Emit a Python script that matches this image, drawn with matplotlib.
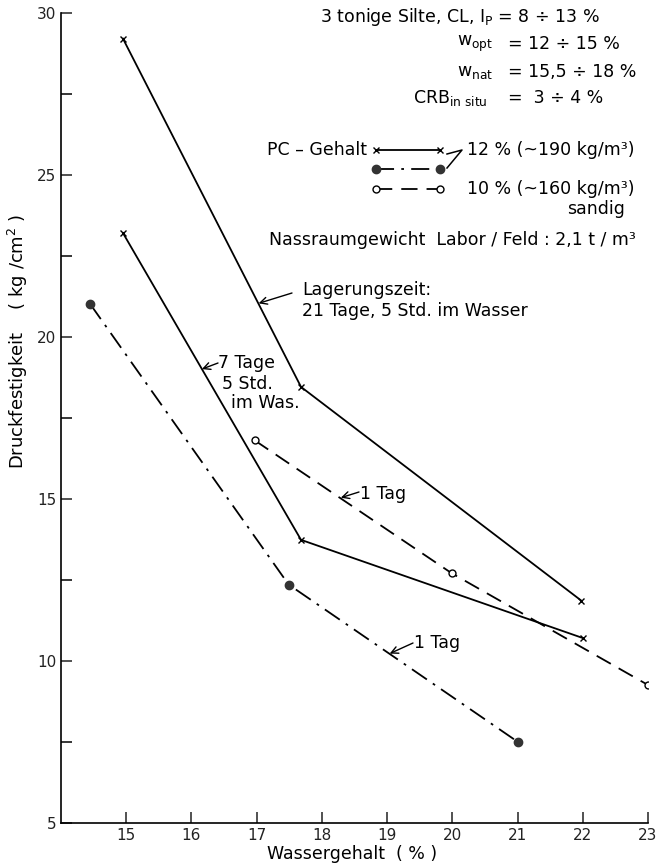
import numpy as np
import matplotlib.pyplot as plt
from matplotlib.lines import Line2D

plt.rcParams['font.family'] = ['DejaVu Sans']
plt.rcParams['mathtext.default'] = 'regular'

# === Daten ===
w_21tage = [14.95, 17.68, 21.98]
p_21tage = [29.2, 18.45, 11.85]

w_7tage = [14.95, 17.68, 22.0]
p_7tage = [23.2, 13.73, 10.7]

w_10proz = [16.97, 19.99, 23.0]
p_10proz = [16.8, 12.7, 9.25]

w_12proz_1tag = [14.45, 17.49, 21.0]
p_12proz_1tag = [21.0, 12.35, 7.5]

x_ticks = [15, 16, 17, 18, 19, 20, 21, 22, 23]
y_ticks = [5, 10, 15, 20, 25, 30]

W, H = 671, 867


def fp(px, py):
    # Pixel -> Figurkoordinaten
    return (px / W, 1 - py / H)


fig = plt.figure(figsize=(6.71, 8.67), dpi=100)
ax = fig.add_axes([61 / W, 1 - 822.7 / H, (648 - 61) / W, (822.7 - 12.7) / H])

lw = 1.3
ax.plot(w_21tage, p_21tage, '-', color='black', lw=lw, marker='x', ms=5, mew=1.0)
ax.plot(w_7tage, p_7tage, '-', color='black', lw=lw, marker='x', ms=5, mew=1.0)
ax.plot(w_10proz, p_10proz, color='black', lw=lw, dashes=(9, 5),
        marker='o', ms=5, mfc='white', mec='black', mew=1.0)
ax.plot(w_12proz_1tag, p_12proz_1tag, color='black', lw=lw, dashes=(10, 4, 1.5, 4),
        marker='o', ms=6, mfc='#333333', mec='#333333')

ax.set_xlim(14, 23)
ax.set_ylim(5, 30)
ax.set_xticks(x_ticks)
ax.set_yticks(y_ticks)
ax.set_yticks(np.arange(7.5, 30, 5), minor=True)
ax.tick_params(direction='in', length=8, width=1.1, labelsize=11, colors='#222222')
ax.tick_params(axis='y', which='minor', direction='in', length=8, width=1.1)
ax.spines['top'].set_visible(False)
ax.spines['right'].set_visible(False)
for s in ['left', 'bottom']:
    ax.spines[s].set_linewidth(1.2)

fig.text(*fp(352, 854), 'Wassergehalt  ( % )', fontsize=12.5, ha='center', va='center')
fig.text(18 / W, 1 - 341 / H, 'Druckfestigkeit    ( kg /cm$^2$ )', rotation=90,
         ha='center', va='center', fontsize=13)

fs = 12.5
# Kopftext
fig.text(*fp(320, 17), '3 tonige Silte, CL, I$_P$ = 8 ÷ 13 %', fontsize=fs, va='center')
fig.text(*fp(493, 44), 'w$_{opt}$', fontsize=fs, va='center', ha='right')
fig.text(*fp(508, 44), '= 12 ÷ 15 %', fontsize=fs, va='center')
fig.text(*fp(493, 72), 'w$_{nat}$', fontsize=fs, va='center', ha='right')
fig.text(*fp(508, 72), '= 15,5 ÷ 18 %', fontsize=fs, va='center')
fig.text(*fp(487, 98), 'CRB$_{in\\ situ}$', fontsize=fs, va='center', ha='right')
fig.text(*fp(508, 98), '=  3 ÷ 4 %', fontsize=fs, va='center')

# Legende von Hand
fig.text(*fp(267, 150), 'PC – Gehalt', fontsize=fs, va='center')
x0, x1 = fp(376, 0)[0], fp(440, 0)[0]
ya, yb, yc = fp(0, 150)[1], fp(0, 169)[1], fp(0, 189)[1]
fig.add_artist(Line2D([x0, x1], [ya, ya], transform=fig.transFigure, color='black',
                      lw=lw, marker='x', ms=5, mew=1.0))
fig.add_artist(Line2D([x0, x1], [yb, yb], transform=fig.transFigure, color='black',
                      lw=lw, dashes=(10, 4, 1.5, 4), marker='o', ms=6,
                      mfc='#333333', mec='#333333'))
fig.add_artist(Line2D([x0, x1], [yc, yc], transform=fig.transFigure, color='black',
                      lw=lw, dashes=(9, 5), marker='o', ms=5, mfc='white', mec='black'))
bx, by = zip(fp(447, 154), fp(462, 150), fp(447, 168))
fig.add_artist(Line2D(bx, by, transform=fig.transFigure, color='black', lw=1.1))
fig.text(*fp(467, 150), '12 % (~190 kg/m³)', fontsize=fs, va='center')
fig.text(*fp(467, 189), '10 % (~160 kg/m³)', fontsize=fs, va='center')
fig.text(*fp(596, 209), 'sandig', fontsize=fs, va='center', ha='center')
fig.text(*fp(269, 240), 'Nassraumgewicht  Labor / Feld : 2,1 t / m³', fontsize=fs, va='center')

# Beschriftungen mit Pfeilen
arr = dict(arrowstyle='->,head_length=0.5,head_width=0.25', color='black', lw=1.0,
           shrinkA=0, shrinkB=0)
ax.annotate('', xy=(17.03, 21.03), xytext=fp(292, 293), textcoords='figure fraction',
            arrowprops=arr)
fig.text(*fp(302, 290), 'Lagerungszeit:', fontsize=fs, va='center')
fig.text(*fp(302, 311), '21 Tage, 5 Std. im Wasser', fontsize=fs, va='center')

ax.annotate('', xy=(16.16, 19.0), xytext=fp(218, 363), textcoords='figure fraction',
            arrowprops=arr)
fig.text(*fp(218, 363), '7 Tage', fontsize=fs, va='center')
fig.text(*fp(222, 384), '5 Std.', fontsize=fs, va='center')
fig.text(*fp(231, 403), 'im Was.', fontsize=fs, va='center')

ax.annotate('', xy=(18.29, 15.03), xytext=fp(359, 492), textcoords='figure fraction',
            arrowprops=arr)
fig.text(*fp(360, 494), '1 Tag', fontsize=fs, va='center')

ax.annotate('', xy=(19.04, 10.22), xytext=fp(413, 643), textcoords='figure fraction',
            arrowprops=arr)
fig.text(*fp(414, 643), '1 Tag', fontsize=fs, va='center')

fig.savefig('out.png', dpi=100, facecolor='white')
